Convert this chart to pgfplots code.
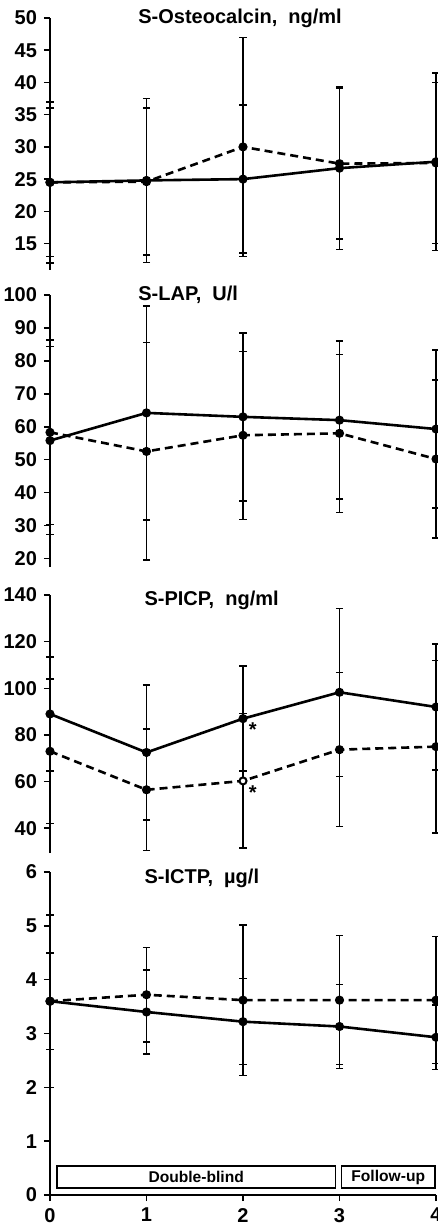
\documentclass[border=0pt]{standalone}
\usepackage{fontspec}
\setmainfont{Liberation Sans}
\usepackage{pgfplots}
\pgfplotsset{compat=1.18}

\tikzset{
  ttl/.style={font=\bfseries\fontsize{10}{12}\selectfont, anchor=west, inner sep=0pt},
  star/.style={font=\bfseries\fontsize{10}{12}\selectfont, inner sep=0pt},
}
\pgfplotsset{
  panel/.style={
    scale only axis, width=193pt, xmin=0, xmax=4,
    axis y line*=left,
    axis line style={-, line width=0.9pt},
    tick align=outside, major tick length=3pt,
    tick style={line width=0.8pt, black},
    tick label style={font=\bfseries\fontsize{10}{12}\selectfont},
    /pgf/number format/assume math mode=true,
    clip=false, anchor=north west,
  },
  ebar/.style={error bars/.cd, y dir=both, y explicit,
    error bar style={line width=0.75pt, solid},
    error mark options={rotate=90, line width=0.75pt, mark size=1.8pt, solid}},
  sol/.style={black, line width=1.3pt, mark=*, mark size=1.6pt, ebar},
  dsh/.style={black, line width=1.3pt, dash pattern=on 4pt off 2.5pt,
    mark=*, mark size=1.6pt, mark options={solid}, ebar},
}

\begin{document}
\begin{tikzpicture}
% S-Osteocalcin
\begin{axis}[panel, axis x line=none, at={(0pt,-9pt)}, height=126pt, ymin=10.9, ymax=50, ytick={15,20,...,50}]
  \addplot[sol] coordinates {(0,24.5) +- (0,12.5) (1,24.8) +- (0,12.7) (2,25) +- (0,11.5) (3,26.7) +- (0,12.6) (4,27.7) +- (0,13.8)};
  \addplot[dsh] coordinates {(0,24.5) +- (0,11.5) (1,24.6) +- (0,11.4) (2,30) +- (0,17) (3,27.4) +- (0,11.7) (4,27.5) +- (0,12.5)};
  \node[ttl] at (rel axis cs:0.228,1) {S-Osteocalcin,\ \ ng/ml};
\end{axis}
% S-LAP
\begin{axis}[panel, axis x line=none, at={(0pt,-147.5pt)}, height=136pt, ymin=17.4, ymax=100, ytick={20,30,...,100}]
  \addplot[sol] coordinates {(0,55.8) +- (0,28.5) (1,64.2) +- (0,32.5) (2,63) +- (0,25.5) (3,62) +- (0,24) (4,59.3) +- (0,24)};
  \addplot[dsh] coordinates {(0,58.3) +- (0,28) (1,52.5) +- (0,33) (2,57.4) +- (0,25.5) (3,58) +- (0,24) (4,50.2) +- (0,24)};
  \node[ttl] at (rel axis cs:0.228,1) {S-LAP,\ \ U/l};
\end{axis}
% S-PICP
\begin{axis}[panel, axis x line=none, at={(0pt,-297.5pt)}, height=129pt, ymin=29.4, ymax=140, ytick={40,60,...,140}]
  \addplot[sol] coordinates {(0,89) +- (0,24.5) (1,72.5) +- (0,29) (2,87) +- (0,22.5) (3,98.3) +- (0,36) (4,92) +- (0,27)};
  \addplot[dsh] coordinates {(0,73) +- (0,31) (1,56.5) +- (0,26) (2,60.3) +- (0,28.8) (3,73.7) +- (0,33) (4,75) +- (0,37)};
  \addplot[only marks, mark=*, mark size=1.6pt, mark options={fill=white, line width=0.7pt}] coordinates {(2,60.3)};
  \node[star] at (axis cs:2.1,82.5) {*};
  \node[star] at (axis cs:2.1,55.5) {*};
  \node[ttl] at (rel axis cs:0.244,0.98) {S-PICP,\ \ ng/ml};
\end{axis}
% S-ICTP
\begin{axis}[panel, axis x line*=bottom, at={(0pt,-436pt)}, height=161.5pt, ymin=0, ymax=6, ytick={0,...,6},
    xtick={0,...,4}, xmajorticks=true]
  \addplot[sol] coordinates {(0,3.6) +- (0,1.6) (1,3.4) +- (0,0.78) (2,3.22) +- (0,0.8) (3,3.13) +- (0,0.78) (4,2.93) +- (0,0.6)};
  \addplot[dsh] coordinates {(0,3.6) +- (0,0.9) (1,3.72) +- (0,0.88) (2,3.62) +- (0,1.4) (3,3.62) +- (0,1.2) (4,3.62) +- (0,1.18)};
  \node[ttl] at (rel axis cs:0.244,0.98) {S-ICTP,\ \ µg/l};
  \draw[line width=0.8pt] (axis cs:0.07,0.13) rectangle (axis cs:2.96,0.54);
  \draw[line width=0.8pt] (axis cs:3.02,0.13) rectangle (axis cs:3.99,0.54);
  \node[font=\bfseries\fontsize{7.8}{9}\selectfont] at (axis cs:1.515,0.335) {Double-blind};
  \node[font=\bfseries\fontsize{7.8}{9}\selectfont] at (axis cs:3.505,0.335) {Follow-up};
\end{axis}
\pgfresetboundingbox
\path (-25pt,0pt) rectangle (194pt,-612pt);
\end{tikzpicture}
\end{document}
